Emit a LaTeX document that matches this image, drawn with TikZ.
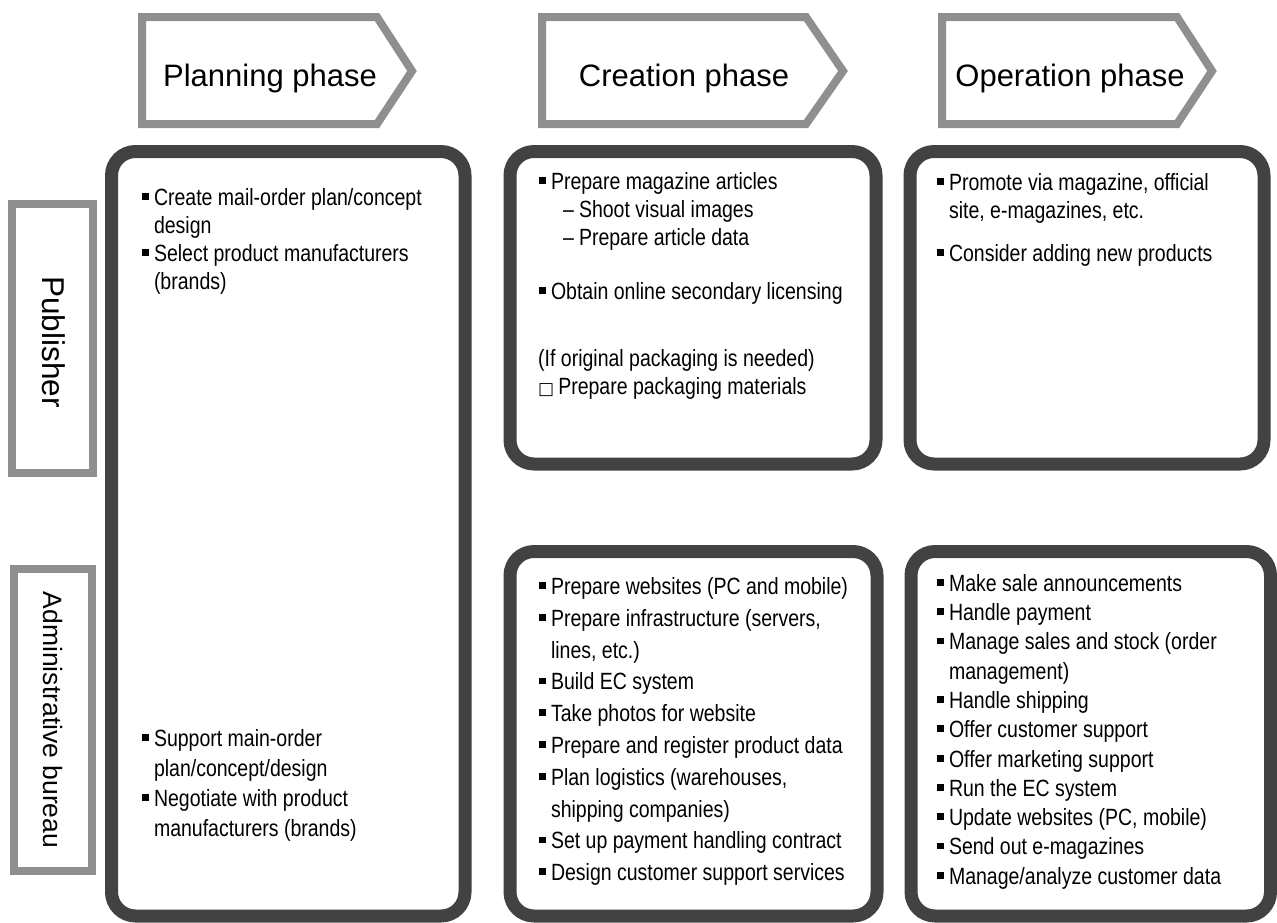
\documentclass[tikz,border=0pt]{standalone}
\usepackage{fontspec}
\setmainfont{Liberation Sans}
\newfontfamily\bodyfont[FakeStretch=0.83]{Liberation Sans}
\newfontfamily\symfont{DejaVu Sans}
\definecolor{boxgray}{RGB}{66,66,66}
\definecolor{phgray}{RGB}{143,143,143}
\newcommand{\bul}{\raisebox{5.5pt}{\rule{6.8pt}{6.8pt}}\hspace{5pt}}
\newcommand{\ind}{\hphantom{\bul}}
\newcommand{\subd}{\hspace*{24pt}–\hspace{5pt}}
\tikzset{
  phasebox/.style={draw=phgray, line width=8pt, fill=white, line join=miter},
  lanebox/.style={draw=phgray, line width=8pt, fill=white},
  taskbox/.style={draw=boxgray, line width=13pt, rounded corners=24pt, fill=white},
  phasetext/.style={anchor=base, inner sep=0pt, font=\fontsize{31}{36}\selectfont},
  lanetext/.style={rotate=-90, inner sep=0pt},
  body/.style={anchor=north west, inner sep=0pt, align=left},
  sp28/.style={font=\bodyfont\fontsize{23.5}{28}\selectfont},
  sp30/.style={font=\bodyfont\fontsize{23.5}{30}\selectfont},
  sp32/.style={font=\bodyfont\fontsize{23.5}{31.8}\selectfont},
  sp29/.style={font=\bodyfont\fontsize{23.5}{29.3}\selectfont},
}
\begin{document}
\begin{tikzpicture}[x=1pt,y=-1pt]
\useasboundingbox (0,0) rectangle (1277,922);

% phase arrows
\draw[phasebox] (142,17) -- (377,17) -- (412,71) -- (377,124) -- (142,124) -- cycle;
\draw[phasebox] (542,17) -- (806,17) -- (843,71) -- (806,124) -- (542,124) -- cycle;
\draw[phasebox] (942,17) -- (1177,17) -- (1212,71) -- (1177,124) -- (942,124) -- cycle;
\node[phasetext] (plan) at (270,86) {Planning phase};
\node[phasetext] (crea) at (684,86) {Creation phase};
\node[phasetext] (oper) at (1070,86) {Operation phase};

% lane labels
\draw[lanebox] (12,204) rectangle (93,473);
\draw[lanebox] (14,569) rectangle (92,871);
\node[lanetext, font=\fontsize{31.5}{36}\selectfont] (pub) at (54,342) {Publisher};
\node[lanetext, font=\fontsize{26.5}{32}\selectfont] (adm) at (53,720) {Administrative bureau};

% task boxes
\draw[taskbox] (111.5,151.5) rectangle (465,916);
\draw[taskbox] (510,151.5) rectangle (876,464);
\draw[taskbox] (910,151.5) rectangle (1264,464);
\draw[taskbox] (510,551.5) rectangle (877,916);
\draw[taskbox] (911,551.5) rectangle (1270.5,916);

% planning
\node[body, sp28] (pt) at (142,185.4) {\strut\bul Create mail-order plan/concept\\
\ind design\\
\bul Select product manufacturers\\
\ind (brands)};
\node[body, sp30] (pb) at (142,725) {\strut\bul Support main-order\\
\ind plan/concept/design\\
\bul Negotiate with product\\
\ind manufacturers (brands)};

% creation
\node[body, sp28] (ct1) at (539,169.4) {\strut\bul Prepare magazine articles\\
\subd Shoot visual images\\
\subd Prepare article data};
\node[body, sp28] (ct2) at (539,279.4) {\strut\bul Obtain online secondary licensing};
\node[body, sp28] (ct3) at (538,346.4) {\strut(If original packaging is needed)\\
{\symfont\fontsize{17}{28}\selectfont □}\hspace{4pt}Prepare packaging materials};
\node[body, sp32] (cb) at (539,572) {\strut\bul Prepare websites (PC and mobile)\\
\bul Prepare infrastructure (servers,\\
\ind lines, etc.)\\
\bul Build EC system\\
\bul Take photos for website\\
\bul Prepare and register product data\\
\bul Plan logistics (warehouses,\\
\ind shipping companies)\\
\bul Set up payment handling contract\\
\bul Design customer support services};

% operation
\node[body, sp28] (ot1) at (937,170.4) {\strut\bul Promote via magazine, official\\
\ind site, e-magazines, etc.};
\node[body, sp28] (ot2) at (937,241.4) {\strut\bul Consider adding new products};
\node[body, sp29] (ob) at (937,570.5) {\strut\bul Make sale announcements\\
\bul Handle payment\\
\bul Manage sales and stock (order\\
\ind management)\\
\bul Handle shipping\\
\bul Offer customer support\\
\bul Offer marketing support\\
\bul Run the EC system\\
\bul Update websites (PC, mobile)\\
\bul Send out e-magazines\\
\bul Manage/analyze customer data};
\end{tikzpicture}
\end{document}
